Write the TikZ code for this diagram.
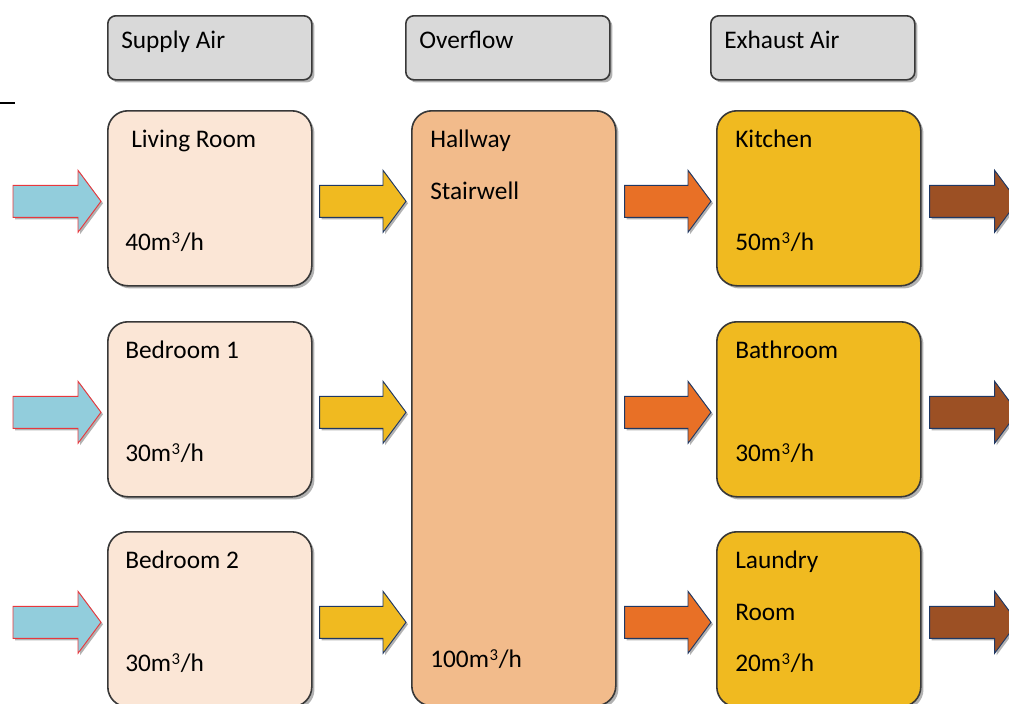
\documentclass[tikz,border=0pt]{standalone}
\usepackage{fontspec}
\setmainfont{Carlito}
\usetikzlibrary{calc,shadows}

\definecolor{hdrgray}{RGB}{217,217,217}
\definecolor{roomfill}{RGB}{251,230,214}
\definecolor{hallfill}{RGB}{242,187,139}
\definecolor{wetfill}{RGB}{240,186,32}
\definecolor{boxline}{RGB}{56,56,56}
\definecolor{supplyblue}{RGB}{146,205,220}
\definecolor{supplyred}{RGB}{232,56,61}
\definecolor{overflowyel}{RGB}{240,186,32}
\definecolor{transferorg}{RGB}{232,112,38}
\definecolor{exhaustbrn}{RGB}{156,80,36}
\definecolor{arrowline}{RGB}{31,56,100}

\tikzset{
  box/.style={draw=boxline, line width=1.2pt, anchor=north west, inner sep=0pt,
    minimum width=153pt,
    drop shadow={shadow xshift=2pt, shadow yshift=-2pt, opacity=0.3, fill=black}},
  header/.style={box, fill=hdrgray, rounded corners=6pt, minimum height=48pt},
  room/.style={box, rounded corners=15pt, minimum height=131.25pt},
  roomtext/.style={anchor=base west, inner sep=0pt, font=\fontsize{19}{23}\selectfont},
  flow/.style={draw=arrowline, line width=0.7pt,
    drop shadow={shadow xshift=1.5pt, shadow yshift=-1.5pt, opacity=0.3, fill=black}},
  supplyarrow/.style={flow, fill=supplyblue, draw=supplyred},
  overflowarrow/.style={flow, fill=overflowyel},
  transferarrow/.style={flow, fill=transferorg},
  exhaustarrow/.style={flow, fill=exhaustbrn}
}

% flow rate text
\newcommand{\rate}[1]{#1m\kern0.4pt\raisebox{4.8pt}{\fontsize{12.5}{12.5}\selectfont 3}\kern0.6pt/h}

% block arrow from #2 to #3 (same height)
\newcommand{\flowarrow}[3]{%
  \draw[#1] ($(#2)+(0,-16)$) -- ($(#3)+(-23,-16)$) -- ($(#3)+(-23,-31)$) -- (#3)
    -- ($(#3)+(-23,31)$) -- ($(#3)+(-23,16)$) -- ($(#2)+(0,16)$) -- cycle;}

\begin{document}
\begin{tikzpicture}[x=0.75pt,y=0.75pt,yscale=-1,xscale=1]
\useasboundingbox (0,0) rectangle (1009,703);

%Straight Lines
\draw [line width=1.8pt] (0,103) -- (15,103);

%Shape: headers
\node[header] (supplyhdr) at (107,15) {};
\node[header] (overflowhdr) at (405,15) {};
\node[header] (exhausthdr) at (710,15) {};
\node[roomtext] (supplytxt) at ($(supplyhdr.north west)+(14,33)$) {Supply Air};
\node[roomtext] (overflowtxt) at ($(overflowhdr.north west)+(14,33)$) {Overflow};
\node[roomtext] (exhausttxt) at ($(exhausthdr.north west)+(14,33)$) {Exhaust Air};

%Shape: supply rooms
\node[room, fill=roomfill] (living) at (107,110) {};
\node[room, fill=roomfill] (bedone) at (107,321) {};
\node[room, fill=roomfill] (bedtwo) at (107,531) {};

%Shape: overflow zone
\node[room, fill=hallfill, minimum height=446.25pt] (hall) at (411,110) {};

%Shape: exhaust rooms
\node[room, fill=wetfill] (kitchen) at (716,110) {};
\node[room, fill=wetfill] (bath) at (716,321) {};
\node[room, fill=wetfill] (laundry) at (716,531) {};

% Text Node
\node[roomtext] (livingname) at ($(living.north west)+(24,37)$) {Living Room};
\node[roomtext] (livingrate) at ($(living.north west)+(18,140)$) {\rate{40}};
\node[roomtext] (bedonename) at ($(bedone.north west)+(18,37)$) {Bedroom 1};
\node[roomtext] (bedonerate) at ($(bedone.north west)+(18,140)$) {\rate{30}};
\node[roomtext] (bedtwoname) at ($(bedtwo.north west)+(18,37)$) {Bedroom 2};
\node[roomtext] (bedtworate) at ($(bedtwo.north west)+(18,140)$) {\rate{30}};
\node[roomtext] (hallname) at ($(hall.north west)+(19,37)$) {Hallway};
\node[roomtext] (stairname) at ($(hall.north west)+(19,89)$) {Stairwell};
\node[roomtext] (hallrate) at ($(hall.north west)+(19,557)$) {\rate{100}};
\node[roomtext] (kitchenname) at ($(kitchen.north west)+(19,37)$) {Kitchen};
\node[roomtext] (kitchenrate) at ($(kitchen.north west)+(19,140)$) {\rate{50}};
\node[roomtext] (bathname) at ($(bath.north west)+(19,37)$) {Bathroom};
\node[roomtext] (bathrate) at ($(bath.north west)+(19,140)$) {\rate{30}};
\node[roomtext] (laundryname) at ($(laundry.north west)+(19,37)$) {Laundry};
\node[roomtext] (laundryroom) at ($(laundry.north west)+(19,89)$) {Room};
\node[roomtext] (laundryrate) at ($(laundry.north west)+(19,140)$) {\rate{20}};

%Block arrows, one row per room pair
\foreach \r/\src/\dst in {1/living/kitchen, 2/bedone/bath, 3/bedtwo/laundry}{
  \coordinate (in\r) at ($(\src.west)+(-94,3)$);
  \coordinate (sa\r) at ($(\src.west)+(-6,3)$);
  \coordinate (ov\r) at ($(\src.east)+(7,3)$);
  \coordinate (ho\r) at ($(hall.west |- ov\r)+(-5,0)$);
  \coordinate (tr\r) at ($(hall.east |- ov\r)+(8,0)$);
  \coordinate (wr\r) at ($(\dst.west)+(-5,3)$);
  \coordinate (ex\r) at ($(\dst.east)+(8,3)$);
  \coordinate (out\r) at ($(\dst.east)+(96,3)$);
  \flowarrow{supplyarrow}{in\r}{sa\r}
  \flowarrow{overflowarrow}{ov\r}{ho\r}
  \flowarrow{transferarrow}{tr\r}{wr\r}
  \flowarrow{exhaustarrow}{ex\r}{out\r}
}

\end{tikzpicture}
\end{document}
